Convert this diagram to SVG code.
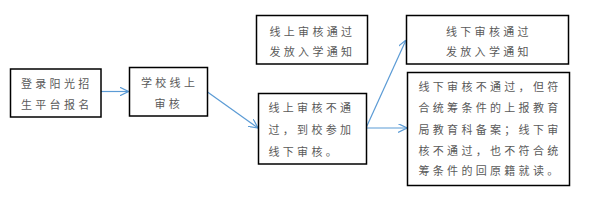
<svg xmlns="http://www.w3.org/2000/svg" width="596" height="201" viewBox="0 0 596 201">
<style>
.box{fill:#fff;stroke:#000;stroke-width:1.5}
.t{font-family:"Noto Sans CJK SC","Noto Sans CJK JP",sans-serif;font-size:11px;letter-spacing:3.3px;fill:#5a5a5a}
.c{stroke:#5B9BD5;stroke-width:1.2;fill:none}
</style>
<defs>
<marker id="ah" viewBox="0 0 10 10" refX="10" refY="5" markerWidth="9" markerHeight="9" markerUnits="userSpaceOnUse" orient="auto">
<path d="M0,0 L10,5 L0,10" fill="none" stroke="#5B9BD5" stroke-width="1.3"/>
</marker>
</defs>
<rect width="596" height="201" fill="#fff"/>
<g id="connectors">
<line class="c" x1="101" y1="91.5" x2="128.5" y2="91.5" marker-end="url(#ah)"/>
<line class="c" x1="207.5" y1="92" x2="258" y2="128" marker-end="url(#ah)"/>
<line class="c" x1="366" y1="128" x2="406" y2="40" marker-end="url(#ah)"/>
<line class="c" x1="366" y1="128" x2="407" y2="128" marker-end="url(#ah)"/>
</g>
<g id="n1">
<rect class="box" x="10.5" y="69" width="90.5" height="48"/>
<text class="t" x="21" y="87.7">登录阳光招</text>
<text class="t" x="21" y="109">生平台报名</text>
</g>
<g id="n2">
<rect class="box" x="129.5" y="67.5" width="78" height="48.5"/>
<text class="t" x="141" y="87.3">学校线上</text>
<text class="t" x="154.5" y="108">审核</text>
</g>
<g id="n3">
<rect class="box" x="256.5" y="15.5" width="111" height="48.5"/>
<text class="t" x="269.5" y="35.7">线上审核通过</text>
<text class="t" x="269.5" y="55.7">发放入学通知</text>
</g>
<g id="n4">
<rect class="box" x="258.5" y="93.5" width="108" height="70.5"/>
<text class="t" x="268.5" y="112.3">线上审核不通</text>
<text class="t" x="268.5" y="134">过，到校参加</text>
<text class="t" x="268.5" y="155.7">线下审核。</text>
</g>
<g id="n5">
<rect class="box" x="406.5" y="15.5" width="162" height="48.5"/>
<text class="t" x="446" y="35.7">线下审核通过</text>
<text class="t" x="446" y="55.7">发放入学通知</text>
</g>
<g id="n6">
<rect class="box" x="407.5" y="72.5" width="162" height="113"/>
<text class="t" x="418.5" y="91.3">线下审核不通过，但符</text>
<text class="t" x="418.5" y="112.3">合统筹条件的上报教育</text>
<text class="t" x="418.5" y="134">局教育科备案；线下审</text>
<text class="t" x="418.5" y="154.7">核不通过，也不符合统</text>
<text class="t" x="418.5" y="175">筹条件的回原籍就读。</text>
</g>
</svg>
